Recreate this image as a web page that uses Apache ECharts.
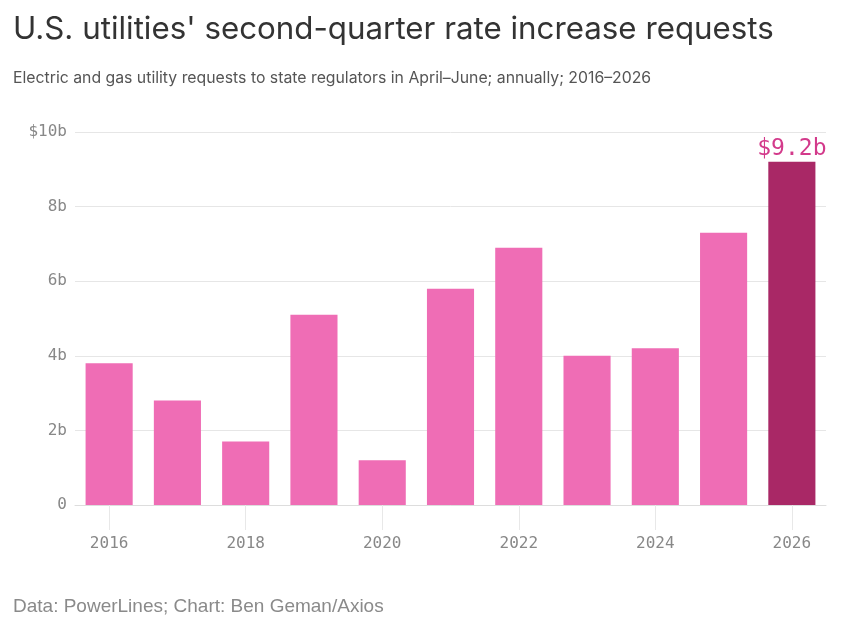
<!DOCTYPE html>
<html>
<head>
    <meta charset="UTF-8">
    <title>U.S. utilities' second-quarter rate increase requests</title>
    <script type="text/javascript" src="https://cdn.jsdelivr.net/npm/echarts@6/dist/echarts.min.js"></script>
    <style>
        html, body { margin: 0; padding: 0; background: #fff; }
    </style>
</head>
<body>
<div id="main" style="width: 855px;height:631px;"></div>
<script type="text/javascript">
    // data, billions of dollars
    var years = ['2016', '2017', '2018', '2019', '2020', '2021', '2022', '2023', '2024', '2025', '2026'];
    var requests = [3.8, 2.8, 1.7, 5.1, 1.2, 5.8, 6.9, 4.0, 4.2, 7.3, 9.2];
    var yTicks = {0: '0', 2: '2b', 4: '4b', 6: '6b', 8: '8b', 10: '$10b'};

    var mono = '"DejaVu Sans Mono", "Liberation Mono", monospace';
    var lastIdx = requests.length - 1;

    var barData = requests.map(function (v, i) {
        if (i !== lastIdx) return v;
        return {
            value: v,
            itemStyle: { color: '#A92866' },
            label: {
                show: true,
                position: 'top',
                distance: 1,
                formatter: '$' + v.toFixed(1) + 'b',
                color: '#D33A8B',
                fontFamily: mono,
                fontSize: 23
            }
        };
    });

    var myChart = echarts.init(document.getElementById('main'));
    var option = {
        backgroundColor: '#ffffff',
        animation: false,
        title: [
            {
                text: "U.S. utilities' second-quarter rate increase requests",
                left: 13, top: 14, padding: 0,
                textStyle: { fontFamily: 'Inter, "Noto Sans", sans-serif', fontSize: 31.3, fontWeight: 'normal', color: '#333333' }
            },
            {
                text: 'Electric and gas utility requests to state regulators in April–June; annually; 2016–2026',
                left: 13, top: 70, padding: 0,
                textStyle: { fontFamily: 'Inter, "Noto Sans", sans-serif', fontSize: 15.8, fontWeight: 'normal', color: '#555555' }
            },
            {
                text: 'Data: PowerLines; Chart: Ben Geman/Axios',
                left: 13, top: 597, padding: 0,
                textStyle: { fontFamily: '"Liberation Sans", Arial, sans-serif', fontSize: 19, fontWeight: 'normal', color: '#8a8a8a' }
            }
        ],
        grid: { left: 75, right: 29, top: 132, bottom: 126, containLabel: false },
        xAxis: {
            type: 'category',
            data: years,
            axisLine: { lineStyle: { color: '#dddddd', width: 1 } },
            axisTick: { show: true, interval: 1, alignWithLabel: true, length: 25, lineStyle: { color: '#e8e8e8' } },
            axisLabel: { interval: 1, margin: 31, color: '#888888', fontFamily: mono, fontSize: 16 }
        },
        yAxis: {
            type: 'value',
            min: 0, max: 10, interval: 2,
            axisLine: { show: false },
            axisTick: { show: false },
            splitLine: { lineStyle: { color: '#e6e6e6', width: 1 } },
            axisLabel: {
                margin: 8,
                color: '#888888', fontFamily: mono, fontSize: 16,
                formatter: function (v) { return yTicks[v] !== undefined ? yTicks[v] : v + 'b'; }
            }
        },
        series: [{
            type: 'bar',
            data: barData,
            barCategoryGap: '31%',
            itemStyle: { color: '#EF6DB5' }
        }]
    };
    myChart.setOption(option);
</script>
</body>
</html>
